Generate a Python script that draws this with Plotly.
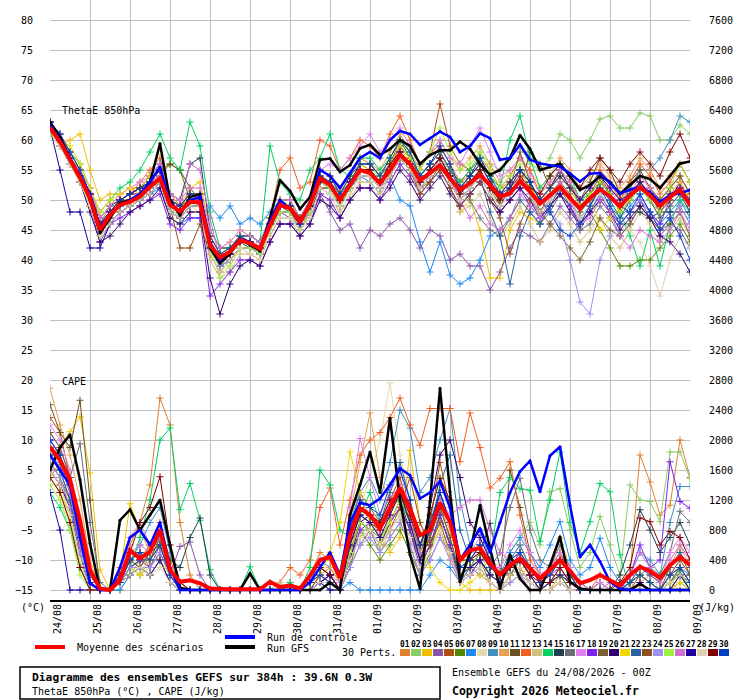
import plotly.graph_objects as go

# ---------------- data ----------------
hours = list(range(0, 385, 6))
day_hours = list(range(0, 385, 24))
day_labels = ["24/08", "25/08", "26/08", "27/08", "28/08", "29/08", "30/08", "31/08",
              "01/09", "02/09", "03/09", "04/09", "05/09", "06/09", "07/09", "08/09", "09/09"]
theta_ticks = list(range(-15, 81, 5))
cape_ticks = list(range(0, 7601, 400))
pert_names = ["%02d" % k for k in range(1, 31)]

theta_mean = [62.1, 59.7, 56.7, 53.7, 50.3, 45.0, 47.5, 49.2, 49.7, 50.6, 52.2, 53.6, 49.2, 48.1, 49.7,
              49.6, 42.5, 40.4, 41.4, 43.3, 42.8, 41.9, 45.8, 49.2, 48.6, 46.4, 49.2, 53.6, 52.5, 50.0,
              52.5, 55.0, 54.5, 52.8, 55.0, 57.5, 56.0, 53.3, 54.5, 55.8, 53.6, 51.7, 52.8, 54.2, 52.5,
              50.6, 51.1, 53.2, 51.4, 49.4, 50.8, 52.2, 50.3, 48.6, 50.3, 51.8, 50.6, 48.9, 50.8, 52.1,
              50.8, 49.0, 50.5, 51.7, 49.2]
theta_gfs = [63, 60.5, 57, 54, 50, 44.5, 47, 49.5, 50, 51, 53, 59.4, 50, 47.5, 50.5,
             51, 42, 39.5, 41, 43.5, 42.5, 41.5, 47, 53.3, 51.5, 48.5, 50.5, 56.7, 56.9, 54.7,
             55.8, 58.6, 59.2, 57.5, 58.5, 60, 59, 56, 57.5, 58.3, 58.3, 59.7, 58.5, 56, 54.2,
             55, 57, 60.8, 58.5, 55, 55.5, 56, 54, 51.7, 52.5, 54, 53, 51, 52.5, 54,
             53.5, 52, 54, 56.1, 56.4]
theta_ctrl = [62.5, 60, 57, 54, 51, 45.5, 47.5, 49, 50, 51, 53, 55.5, 49.5, 48, 50,
              50.5, 43, 40, 41.5, 43.5, 43, 42, 46.5, 50, 48.5, 46, 49.5, 55, 54, 52,
              54.5, 57, 58, 57, 60, 61.5, 61, 59.2, 60.3, 61.4, 60.5, 58, 59, 61.1, 60.3,
              56.7, 57, 59.2, 56.7, 56.1, 55.8, 55.6, 54.4, 53.1, 54.4, 54.5, 52.8, 51.1, 51.7, 52.2,
              51.3, 49.7, 50.8, 51.1, 51.7]

cape_mean = [1910, 1730, 1470, 930, 270, 20, 0, 130, 530, 420, 510, 800, 270, 110, 130,
             90, 20, 10, 10, 10, 10, 10, 110, 40, 60, 20, 190, 400, 440, 160,
             730, 1090, 1000, 820, 1090, 1360, 1090, 730, 800, 1160, 910, 400, 530, 560, 360,
             200, 330, 420, 290, 150, 270, 400, 250, 90, 130, 200, 130, 60, 200, 310,
             250, 160, 330, 440, 330]
cape_gfs = [1600, 1900, 2070, 1470, 620, 0, 0, 930, 1070, 800, 1000, 1200, 600, 30, 0,
            0, 0, 0, 0, 0, 220, 0, 0, 0, 0, 0, 0, 0, 100, 0,
            1000, 1400, 1840, 1300, 2290, 1200, 470, 20, 1180, 2690, 1310, 110, 500, 1130, 560,
            20, 470, 150, 0, 0, 330, 710, 110, 20, 0, 0, 0, 0, 0, 80,
            0, 0, 0, 0, 0]
cape_ctrl = [1800, 1600, 1400, 710, 90, 0, 0, 300, 700, 800, 600, 900, 300, 0, 0,
             0, 0, 0, 0, 0, 0, 0, 0, 0, 0, 0, 100, 300, 500, 200,
             900, 1160, 1130, 1220, 1400, 1620, 1530, 1220, 1300, 1450, 1100, 400, 600, 820, 500,
             900, 1300, 1580, 1720, 1310, 1790, 1910, 1130, 440, 600, 380, 110, 20, 0, 0,
             0, 0, 0, 0, 0]

theta_perts = [
    [62,60,56,53,50, 46,48,50,51,52,53,55,50,49,51,51, 44,41,42,44,43,42, 47,50,49,47,50,55,54,52,54,57,56, 54,57,60,57,54,56,58,55,53,54,56,54,52,53,55,52,50,52,54,52,50,51,53,52,50,52,54,52,50,52,54,51],
    [61,59,57,54,51, 46,47,49,50,50,52,53,49,47,49,49, 41,39,40,42,42,41, 45,48,48,45,48,52,52,49,52,54,54, 52,54,57,55,52,54,57,55,53,55,58,56,55,57,59,56,55,57,61,60,57,60,63.5,64,62,62,64.5,64,60,60,62.5,61],
    [61,59,60,61,55, 50,51,51,52,51,53,55,50,48,52,53, 45,42,43,45,44,43, 47,50,50,46,50,54,53,51,53,56,55, 53,56,59,56,51,53,55,52,48,50,45,37,37,45,48,47,46,49,52,50,47,49,53,51,48,50,52,50,47,49,51,48],
    [62,59,56,53,49, 44,46,48,49,50,51,53,48,47,49,49, 42,39,40,42,42,41, 45,48,47,45,47,51,48,45,46,42,45, 44,46,47,45,42,45,44,40,41,39,39,35,38,42,45,44,43,46,49,47,45,48,51,48,46,48,50,47,44,46,45,42],
    [63,61,57,54,51, 45,48,50,51,51,53,54,50,49,50,50, 43,40,41,43,43,42, 46,49,49,46,49,53,53,50,53,56,55, 53,56,60,58,55,58,66,59,56,55,57,54,49,52,55,53,50,52,55,53,49,51,54,51,49,51,53,50,48,50,53,50],
    [62,60,57,54,50, 45,48,50,50,51,52,54,56,55,50,49, 42,39,41,43,42,41, 45,48,48,46,48,53,52,49,52,54,54, 52,54,57,55,52,53,56,53,50,52,55,52,49,51,53,51,48,50,52,49,46,48,45,42,39,39,40,40,42,44,46,43],
    [62,60,57,54,51, 46,48,49,50,50,51,52,47,46,47,47, 49,47,49,46,47,46, 48,50,49,47,49,52,51,49,52,54,53, 51,54,50,49,43,38,43,37.5,36,37,40,44,45,47,50,48,46,49,51,49,46,48,51,49,47,49,51,48,46,48,50,47],
    [61,59,56,53,49, 43,46,48,49,50,51,53,48,47,49,48, 41,38,39,42,41,40, 44,47,47,45,47,52,51,48,51,53,53, 51,54,58,56,53,55,57,54,52,54,56,53,51,52,54,52,50,52,54,52,50,52,55,53,51,53,56,54,52,54,56,53],
    [62,60,57,54,50, 45,47,49,50,51,52,54,49,48,50,50, 43,40,41,43,43,42, 46,49,49,46,49,54,53,50,53,55,55, 53,55,58,56,53,55,57,54,51,53,55,52,50,51,53,51,48,50,52,50,48,50,52,50,49,52,55,55,57,60,64,63],
    [62,61,58,55,52, 47,49,51,52,52,54,56,51,50,51,51, 44,41,42,44,44,43, 47,50,50,47,50,55,54,51,54,57,56, 55,58,61,58,55,58,60,57,55,57,59,56,53,55,57,55,52,54,57,55,52,54,56,54,52,54,57,55,52,54,56,53],
    [63,60,57,54,51, 46,48,50,51,52,53,55,56,55,52,50, 42,40,41,43,43,42, 46,49,48,46,49,53,52,50,52,55,55, 53,56,58,56,53,54,56,53,50,52,54,51,48,50,52,58,56,52,55,52,50,53,57,55,51,53,55,52,50,52,54,51],
    [62,60,57,55,51, 46,49,50,51,53,55,57,51,49,51,51, 44,41,42,44,43,42, 47,55,57,52,53,60,59,55,57,60,59, 57,61,64,60,56,58,59,56,53,55,57,55,52,54,57,55,51,53,55,53,50,52,55,53,50,53,56,54,51,53,56,53],
    [61,59,56,53,50, 44,47,49,50,50,51,53,47,46,48,48, 40,37,38,41,41,40, 44,47,47,44,46,51,50,48,50,53,53, 51,53,56,54,51,53,55,52,48,49,51,47,44,46,49,46,43,45,48,46,43,45,47,44,42,45,48,46,43,45,47,44],
    [62,60,58,56,52, 48,50,52,53,55,58,61,57,55,63,59, 48,42,42,44,44,43, 59,53,51,50,55,57,61,55,54,57,57, 55,57,60,57,54,56,58,55,53,55,57,54,52,60,64,57,52,54,56,54,50,51,53,51,48,44,39,45,39,46,50,48],
    [63,61,58,55,51, 47,49,50,51,52,54,56,51,50,56,57, 45,42,42,44,44,43, 47,50,50,47,50,55,54,51,54,56,56, 54,56,59,57,54,56,58,55,52,54,56,53,51,53,55,53,50,52,55,52,49,51,53,51,49,48,48,47,48,48,48,48],
    [62,60,57,54,51, 46,48,50,51,51,53,54,49,48,50,50, 43,40,41,43,42,41, 46,49,48,46,48,53,52,50,52,55,55, 53,55,59,57,54,56,58,55,52,50,47,45,44,47,50,48,46,48,51,49,45,46,49,47,44,46,49,47,45,47,49,46],
    [62,61,58,55,52, 47,49,51,52,53,54,56,51,50,52,52, 45,42,43,45,44,43, 47,50,50,47,50,55,56,55,57,59,61, 58,60,62,59,56,58,60,57,56,59,62,58,54,55,57,54,51,53,55,53,50,52,54,52,49,51,54,52,49,51,53,50],
    [61,59,56,53,49, 43,46,47,48,49,50,51,46,45,47,47, 34,36,38,40,40,39, 43,46,46,44,46,51,50,47,50,52,52, 50,53,56,54,51,53,55,52,49,51,53,50,48,50,52,49,47,49,51,49,46,48,50,48,46,48,50,48,46,50,53,49],
    [62,60,57,54,50, 45,47,49,50,51,52,54,49,48,50,50, 43,40,41,43,43,42, 46,48,48,46,48,53,52,50,52,55,55, 53,55,58,56,52,54,56,53,51,53,55,52,50,52,58,53,48,46,44,42,40,43,47,45,44,46,49,47,45,46,48,44],
    [63,60,57,53,48, 43,44,46,48,49,50,52,47,46,48,48, 37,31,36,39,40,39, 43,46,46,44,46,50,49,47,50,52,52, 50,52,55,53,50,52,54,51,49,51,53,50,48,50,52,50,47,49,51,48,46,48,50,48,45,47,49,47,44,43,41,38],
    [61,60,59,56,52, 48,50,51,52,52,54,55,50,49,51,51, 44,41,42,44,43,42, 47,50,49,47,49,54,53,50,53,56,55, 53,56,59,57,53,55,57,54,52,54,56,53,51,53,55,52,50,52,54,52,49,51,45,47,49,51,53,51,49,51,53,50],
    [62,60,57,54,50, 45,47,49,50,50,52,53,48,47,49,49, 42,39,40,42,42,41, 45,48,48,45,48,52,52,49,52,54,54, 52,54,57,55,52,54,56,53,50,52,54,48,44,36,44,48,46,49,52,50,47,49,52,50,47,50,52,50,47,49,51,48],
    [62,60,57,54,50, 45,47,49,50,51,52,54,49,42,42,46, 41,38,40,42,42,41, 45,48,48,45,48,52,52,49,52,54,54, 52,54,57,55,51,53,55,52,49,51,53,50,47,41,46,50,48,51,53,51,48,50,53,51,48,50,53,51,48,50,52,49],
    [62,60,57,54,50, 45,47,49,50,51,52,54,49,48,50,50, 42,39,40,42,42,41, 45,48,48,46,48,53,52,49,52,54,54, 52,55,58,56,52,54,56,53,50,52,54,51,49,51,53,51,47,48,46,40,33,31,40,44,46,48,50,48,45,47,49,46],
    [61,59,56,53,49, 44,46,48,49,50,52,53,48,47,49,49, 42,37,39,42,42,41, 45,48,48,45,48,53,52,49,52,55,55, 54,57,60,58,55,58,62,58,55,56,58,55,52,54,56,53,50,52,54,52,49,51,53,51,48,50,52,50,48,52,56,53],
    [62,60,57,54,51, 46,48,50,51,51,53,54,50,49,56,55, 47,40,41,43,43,42, 46,49,49,46,49,53,53,50,53,55,55, 53,55,58,56,52,54,57,54,50,47,49,46,45,47,51,49,47,50,53,50,46,47,50,48,44,42,45,44,43,45,48,45],
    [62,55,48,48,42, 42,46,48,49,50,51,53,48,47,49,49, 42,40,41,43,43,42, 46,49,49,46,49,53,53,50,53,55,55, 53,55,58,56,53,55,57,54,52,54,56,53,51,53,55,53,50,52,54,52,50,52,54,52,50,51,53,51,49,51,52,50],
    [61,59,56,53,49, 44,46,48,49,50,51,53,48,47,49,49, 41,38,40,42,41,40, 45,47,47,45,47,52,51,49,51,54,54, 52,54,57,55,52,54,56,53,50,52,54,51,49,51,53,51,48,50,52,50,47,49,51,49,46,45,43,39,34,40,44,42],
    [62,60,57,54,51, 46,48,50,51,52,53,55,50,49,51,50, 43,40,41,43,43,42, 46,49,49,47,49,54,53,50,53,55,55, 53,56,58,56,53,55,57,54,51,53,55,52,50,52,54,52,51,54,56,54,52,55,57,55,53,56,58,56,54,58,61,57],
    [63,61,58,55,51, 46,48,50,51,52,53,55,50,49,51,51, 44,41,42,44,43,42, 46,49,49,46,49,54,53,51,53,56,56, 54,57,60,58,54,56,59,56,52,54,57,54,51,52,55,53,50,48,45,44,46,49,52,49,46,48,51,48,45,47,44,40],
]

cape_perts = [
    [1500,1700,1300,600,100, 0,0,300,600,900, 1400,2560,2200,900,200, 0,0,0,0,0, 0,0,100,0,50, 0,200,500,400,100, 600,900,800,600,900, 1100,800,400,600,900, 700,200,300,400,200, 100,300,400,200,0, 100,300,100,0,0, 100,0,0,200,1800, 1440,1000,1130,2000,1500],
    [1500,1300,900,300,0, 0,0,0,200,400, 300,500,200,0,0, 0,0,0,0,0, 0,0,0,0,0, 0,100,300,200,0, 400,700,900,700,800, 1000,700,300,500,800, 500,200,300,400,200, 300,500,700,900,600, 1310,1350,800,300,500, 980,600,200,1400,1200, 1180,910,1840,1840,1490],
    [1800,1900,2110,2310,1560, 270,0,200,1150,800, 500,400,200,0,0, 0,0,0,0,0, 0,0,0,0,0, 0,0,200,300,100, 500,1200,1000,700,500, 700,1860,900,600,800, 400,100,0,0,0, 0,100,200,300,100, 300,690,300,100,0, 0,0,0,100,0, 0,0,100,0,0],
    [2000,1800,1400,700,100, 0,0,100,400,500, 300,600,200,580,640, 200,0,0,0,0, 0,0,0,0,0, 0,0,100,200,0, 300,600,800,500,700, 900,600,200,400,700, 500,100,300,200,100, 0,100,200,0,0, 0,200,0,0,0, 0,0,0,0,0, 0,0,0,100,0],
    [2300,2100,1500,800,100, 0,0,200,400,300, 500,800,300,0,0, 0,0,0,0,0, 0,0,0,0,100, 0,100,300,200,0, 800,1300,1100,900,1200, 1500,1000,500,900,1700, 1100,300,400,600,300, 200,400,600,300,100, 200,400,200,0,0, 100,0,0,0,200, 100,0,300,500,200],
    [1700,1500,1100,500,0, 0,0,100,300,200, 400,700,300,0,0, 0,0,0,0,0, 0,0,0,0,0, 0,0,200,100,0, 300,800,600,400,600, 800,500,200,500,1000, 600,200,200,400,100, 0,200,300,100,0, 100,200,0,0,0, 0,0,0,0,100, 0,0,0,200,0],
    [1900,1600,1200,500,0, 0,0,0,200,300, 200,400,100,0,0, 0,0,0,0,0, 0,0,0,0,0, 0,0,100,0,0, 100,0,0,0,0, 0,0,0,200,400, 300,100,300,500,400, 200,500,700,500,300, 600,910,400,200,300, 690,300,100,0,0, 0,0,100,300,200],
    [1400,1200,900,300,0, 0,0,100,200,300, 200,400,100,0,0, 0,0,0,0,0, 0,0,0,0,100, 0,100,300,200,0, 600,1100,1500,2000,2760, 1800,1200,500,800,1100, 700,200,200,300,100, 0,100,200,100,0, 0,100,0,0,0, 0,0,0,100,300, 200,0,100,300,100],
    [2100,1900,1500,800,200, 0,0,200,400,600, 900,1100,500,100,0, 0,0,0,0,0, 0,0,0,0,0, 0,100,400,300,100, 900,1300,1500,1200,1700, 2400,2160,1300,1500,2000, 2420,1200,600,800,400, 200,400,600,300,100, 200,400,200,0,0, 100,0,0,200,500, 400,200,900,1380,1380],
    [2690,2200,1800,1200,400, 0,0,100,300,400, 300,500,200,0,0, 0,0,0,0,0, 0,0,0,0,0, 0,0,200,300,100, 1000,1700,2360,1500,1200, 1400,900,500,700,1100, 800,300,400,500,200, 100,300,500,200,0, 100,300,100,0,0, 0,0,0,0,100, 200,100,300,600,300],
    [2470,2100,1900,2530,1200, 0,0,200,500,400, 600,700,300,0,0, 0,0,0,0,0, 0,0,0,0,0, 0,100,200,100,0, 600,1000,900,800,1000, 1300,900,400,700,1200, 900,300,300,400,200, 100,1600,1100,500,200, 300,500,200,100,0, 0,0,0,100,200, 100,0,200,400,200],
    [1600,1400,1100,500,0, 0,0,200,500,400, 600,900,400,100,0, 0,0,0,0,0, 0,0,0,100,300, 200,400,1100,1360,600, 1200,1800,2000,2100,2300, 2560,2200,1930,2420,2420, 2420,1710,2360,1900,1360, 1490,1710,1000,400,200, 300,500,200,100,0, 200,100,0,0,100, 0,0,100,200,100],
    [1600,1400,1000,400,0, 0,0,100,300,200, 300,500,200,0,0, 0,0,0,0,0, 0,0,0,100,0, 0,100,200,100,0, 400,800,700,500,800, 1000,700,300,600,900, 500,100,200,300,100, 0,100,200,100,0, 0,100,0,0,0, 0,0,0,0,0, 0,0,0,100,0],
    [1300,1100,800,300,0, 0,0,100,300,700, 1200,2000,2160,1070,1420, 930,270,0,0,0, 310,0,0,0,100, 0,300,1600,1400,800, 700,1000,1300,900,1100, 1200,900,500,800,1000, 600,200,300,500,400, 1300,1500,1350,1330,650, 1200,1840,900,500,910, 1420,1310,470,0,0, 0,0,100,250,0],
    [1900,1700,1300,600,100, 0,0,100,300,400, 500,600,400,300,700, 960,200,0,0,0, 0,0,0,0,0, 0,0,100,200,0, 500,900,800,600,900, 1200,800,300,600,1000, 600,200,300,500,890, 300,200,400,200,0, 100,200,100,0,0, 0,0,200,600,1070, 800,500,700,900,600],
    [1800,1600,1500,1950,900, 100,0,100,300,400, 400,600,300,0,0, 0,0,0,0,0, 0,0,0,0,0, 0,100,300,200,0, 500,900,800,700,900, 1100,800,400,700,1100, 700,200,300,500,300, 500,1100,1490,800,400, 300,600,300,100,0, 0,0,0,100,200, 300,200,500,1050,900],
    [2200,2000,1600,800,100, 0,0,200,700,900, 600,800,300,0,0, 0,0,0,0,0, 0,0,0,0,0, 0,100,300,200,100, 1100,2020,1500,1000,1300, 1600,1100,600,800,1300, 900,400,500,700,400, 300,600,800,500,200, 300,500,300,100,0, 100,0,0,100,300, 200,100,500,700,500],
    [2000,1800,1400,700,100, 0,0,100,300,400, 300,500,200,0,0, 0,0,0,0,0, 0,0,0,0,0, 0,0,100,200,0, 400,800,900,700,900, 1100,800,300,600,1000, 600,100,200,400,200, 100,300,400,200,0, 100,200,100,0,0, 0,0,0,200,600, 300,400,1710,1180,1090],
    [1700,1500,1200,600,100, 0,0,100,400,500, 400,700,300,0,0, 0,0,0,0,0, 0,0,0,0,0, 0,100,200,100,0, 600,1000,900,800,1100, 1300,900,400,700,1100, 700,200,300,500,300, 200,400,500,300,100, 200,400,200,0,0, 0,0,0,100,200, 100,0,200,300,100],
    [1600,1400,1100,500,0, 0,0,100,200,300, 200,400,100,0,0, 0,0,0,0,0, 0,0,0,0,0, 0,0,100,0,0, 400,900,1000,800,1100, 1300,900,500,1100,1800, 2000,1500,900,700,400, 200,300,400,200,0, 100,200,100,0,0, 0,0,0,0,0, 0,0,100,200,0],
    [1500,1300,1000,400,0, 0,0,100,300,200, 400,600,300,0,0, 0,0,0,0,0, 0,0,0,0,0, 0,100,200,500,900, 1840,1300,900,700,900, 1200,1000,600,300,100, 0,0,100,200,100, 0,200,300,100,0, 0,200,100,0,0, 0,0,0,0,0, 0,0,0,100,0],
    [1800,1600,1200,500,0, 0,0,100,300,400, 500,700,300,0,0, 0,0,0,0,0, 0,0,0,0,0, 0,100,300,200,0, 700,1100,1000,900,1300, 1700,1200,500,800,1400, 1800,800,400,600,300, 200,300,500,300,100, 200,300,100,0,0, 0,0,0,100,300, 200,100,300,500,300],
    [2100,1900,1500,800,200, 0,0,200,400,300, 500,600,200,0,0, 0,0,0,0,0, 0,0,0,0,0, 0,0,200,100,0, 500,900,800,600,800, 1100,1500,900,600,900, 500,100,200,300,100, 0,200,300,100,0, 0,100,0,0,0, 0,0,0,100,200, 100,0,100,300,100],
    [1700,1500,1100,500,0, 0,0,100,300,300, 300,500,200,0,0, 0,0,0,0,0, 0,0,0,0,0, 0,0,100,100,0, 300,600,700,500,700, 900,600,200,400,700, 400,100,200,300,100, 0,100,200,100,0, 0,100,0,0,0, 0,0,0,0,0, 0,0,0,0,0],
    [1400,1200,800,200,0, 0,0,100,200,300, 200,400,100,0,0, 0,0,0,0,0, 0,0,0,0,0, 0,100,200,100,0, 500,900,800,600,1000, 1300,900,500,1000,1500, 1100,400,300,500,200, 100,300,400,200,0, 100,200,100,0,0, 0,0,0,100,200, 100,0,100,200,100],
    [1900,1700,1300,600,100, 0,0,200,500,600, 500,700,300,0,0, 0,0,0,0,0, 0,0,0,0,0, 0,100,200,100,0, 700,1200,1000,800,1200, 1400,1000,500,800,1200, 1000,1100,1200,1200,800, 500,400,500,300,100, 200,300,100,0,0, 0,100,0,200,500, 300,100,400,600,400],
    [1300,800,0,0,0, 0,0,100,200,300, 200,400,100,0,0, 0,0,0,0,0, 0,0,0,0,0, 0,0,100,200,0, 600,1000,900,700,1000, 1300,900,400,800,1300, 900,300,300,400,200, 100,300,400,200,0, 100,200,100,0,0, 0,0,0,0,100, 0,0,0,200,100],
    [1600,1400,1000,400,0, 0,0,100,200,300, 200,300,100,0,0, 0,0,0,0,0, 0,0,0,0,0, 0,0,100,100,0, 400,700,800,600,800, 1000,700,300,500,800, 500,100,200,300,100, 0,200,300,100,0, 0,100,0,0,0, 0,0,0,0,0, 0,0,100,200,100],
    [1500,1300,900,300,0, 0,0,200,500,900, 1100,1510,600,100,0, 0,0,0,0,0, 0,0,0,0,0, 0,100,300,200,0, 700,1100,1000,900,1200, 1300,1000,600,1000,1490, 1200,400,400,500,300, 200,300,400,200,100, 100,300,100,0,0, 0,0,100,300,960, 910,600,780,700,400],
    [2000,1800,1400,700,100, 0,0,100,400,500, 400,600,200,0,0, 0,0,0,0,0, 0,0,0,0,0, 0,100,200,100,0, 800,1200,1100,1000,1400, 1600,1200,600,900,1300, 900,300,400,600,300, 200,400,500,300,100, 200,400,200,0,0, 0,0,0,100,200, 100,0,200,300,100],
]

# ---------------- style ----------------
pert_colors = ["#e08030", "#88cc66", "#f0c000", "#8855aa", "#b05010", "#558800", "#1e88f0", "#e8d8b0",
               "#4090c0", "#e8a050", "#6a5020", "#f06020", "#d0c080", "#00d060", "#204050", "#6a7078",
               "#e080f0", "#8020f0", "#7a6030", "#300070", "#f0d800", "#2860a0", "#905020", "#a090f0",
               "#a0f040", "#d070d0", "#2000a0", "#e0d0b0", "#800000", "#0040c0"]

for arr in [theta_mean, theta_gfs, theta_ctrl, cape_mean, cape_gfs, cape_ctrl] + theta_perts + cape_perts:
    assert len(arr) == len(hours), len(arr)

W, H = 740, 700
L, R, T, B = 50, 50, 0, 100
PW, PH = W - L - R, H - T - B
FONT = "DejaVu Sans Mono"


def px(x):
    return (x - L) / PW


def py(y):
    return (H - B - y) / PH


y_lo, y_hi = -15 - 10 / 6, 80 + 20 / 6
cape_per_deg = 80.0

fig = go.Figure()

for k in range(30):
    c = pert_colors[k]
    fig.add_trace(go.Scatter(x=hours, y=theta_perts[k], mode="lines+markers",
                             line=dict(color=c, width=1),
                             marker=dict(symbol="cross-thin", size=5, line=dict(width=1, color=c)),
                             yaxis="y", hoverinfo="skip", showlegend=False))
for k in range(30):
    c = pert_colors[k]
    fig.add_trace(go.Scatter(x=hours, y=cape_perts[k], mode="lines+markers",
                             line=dict(color=c, width=1),
                             marker=dict(symbol="cross-thin", size=5, line=dict(width=1, color=c)),
                             yaxis="y2", hoverinfo="skip", showlegend=False))

for ys, ax in [(theta_gfs, "y"), (cape_gfs, "y2")]:
    fig.add_trace(go.Scatter(x=hours, y=ys, mode="lines+markers", line=dict(color="black", width=2.5),
                             marker=dict(size=3, color="black"), yaxis=ax, hoverinfo="skip", showlegend=False))
for ys, ax in [(theta_ctrl, "y"), (cape_ctrl, "y2")]:
    fig.add_trace(go.Scatter(x=hours, y=ys, mode="lines+markers", line=dict(color="#0000ff", width=2.5),
                             marker=dict(size=3, color="#0000ff"), yaxis=ax, hoverinfo="skip", showlegend=False))
for ys, ax in [(theta_mean, "y"), (cape_mean, "y2")]:
    fig.add_trace(go.Scatter(x=hours, y=ys, mode="lines", line=dict(color="#ff0000", width=4),
                             yaxis=ax, hoverinfo="skip", showlegend=False))

ann = []
shapes = []
for h, lab in zip(day_hours, day_labels):
    ann.append(dict(x=h, xref="x", y=py(602), yref="paper", text=lab, textangle=-90,
                    xanchor="center", yanchor="top", xshift=7, showarrow=False,
                    font=dict(family=FONT, size=10, color="black")))


def text(x, y, s, size=10, anchor="left"):
    ann.append(dict(x=px(x), y=py(y), xref="paper", yref="paper", text=s, showarrow=False,
                    xanchor=anchor, yanchor="middle", font=dict(family=FONT, size=size, color="black")))


text(60, 110, "ThetaE 850hPa")
text(60, 381, "CAPE")
text(19, 607, "(°C)")
text(697, 607, "(J/kg)")
text(75, 647, "Moyenne des scénarios")
text(265, 637, "Run de contrôle")
text(265, 648, "Run GFS")
text(340, 652, "30 Perts.")
text(30, 678, "<b>Diagramme des ensembles GEFS sur 384h : 39.6N 0.3W</b>", size=11.3)
text(30, 691, "ThetaE 850hPa (°C) , CAPE (J/kg)")
text(450, 672, "Ensemble GEFS du 24/08/2026 - 00Z")
text(450, 691, "<b>Copyright 2026 Meteociel.fr</b>", size=11.5)

shapes.append(dict(type="line", xref="paper", yref="paper", x0=px(35), x1=px(65), y0=py(647), y1=py(647),
                   line=dict(color="#ff0000", width=4)))
shapes.append(dict(type="line", xref="paper", yref="paper", x0=px(225), x1=px(255), y0=py(637), y1=py(637),
                   line=dict(color="#0000ff", width=4)))
shapes.append(dict(type="line", xref="paper", yref="paper", x0=px(225), x1=px(255), y0=py(647), y1=py(647),
                   line=dict(color="black", width=4)))
shapes.append(dict(type="rect", xref="paper", yref="paper", x0=px(20), x1=px(440), y0=py(699), y1=py(667),
                   line=dict(color="black", width=1.5), fillcolor="rgba(0,0,0,0)"))
for k in range(30):
    x0 = 400 + 11 * k
    shapes.append(dict(type="rect", xref="paper", yref="paper", x0=px(x0), x1=px(x0 + 10),
                       y0=py(656), y1=py(649), line=dict(width=0), fillcolor=pert_colors[k]))
    ann.append(dict(x=px(x0 + 5), y=py(644), xref="paper", yref="paper", text="<b>%s</b>" % pert_names[k],
                    showarrow=False, xanchor="center", yanchor="middle",
                    font=dict(family=FONT, size=8, color="black")))

fig.update_layout(
    width=W, height=H,
    margin=dict(l=L, r=R, t=T, b=B, pad=0),
    paper_bgcolor="white", plot_bgcolor="white",
    showlegend=False,
    font=dict(family=FONT, size=10, color="black"),
    xaxis=dict(range=[0, 384], tickvals=day_hours, showticklabels=False, showgrid=True,
               gridcolor="#c0c0c0", gridwidth=1, zeroline=False, showline=True,
               linecolor="black", linewidth=2, ticks=""),
    yaxis=dict(range=[y_lo, y_hi], tickvals=theta_ticks, showgrid=True, gridcolor="#c0c0c0",
               gridwidth=1, zeroline=False, showline=False, ticks="", ticklabelstandoff=16,
               tickfont=dict(family=FONT, size=10)),
    yaxis2=dict(range=[(y_lo + 15) * cape_per_deg, (y_hi + 15) * cape_per_deg], overlaying="y",
                side="right", tickvals=cape_ticks, showgrid=False, zeroline=False, showline=False,
                ticks="", ticklabelstandoff=18, tickfont=dict(family=FONT, size=10)),
    annotations=ann,
    shapes=shapes,
)

fig.write_html("out.html", config={"displayModeBar": False},
               post_script="document.body.style.margin='0';")
